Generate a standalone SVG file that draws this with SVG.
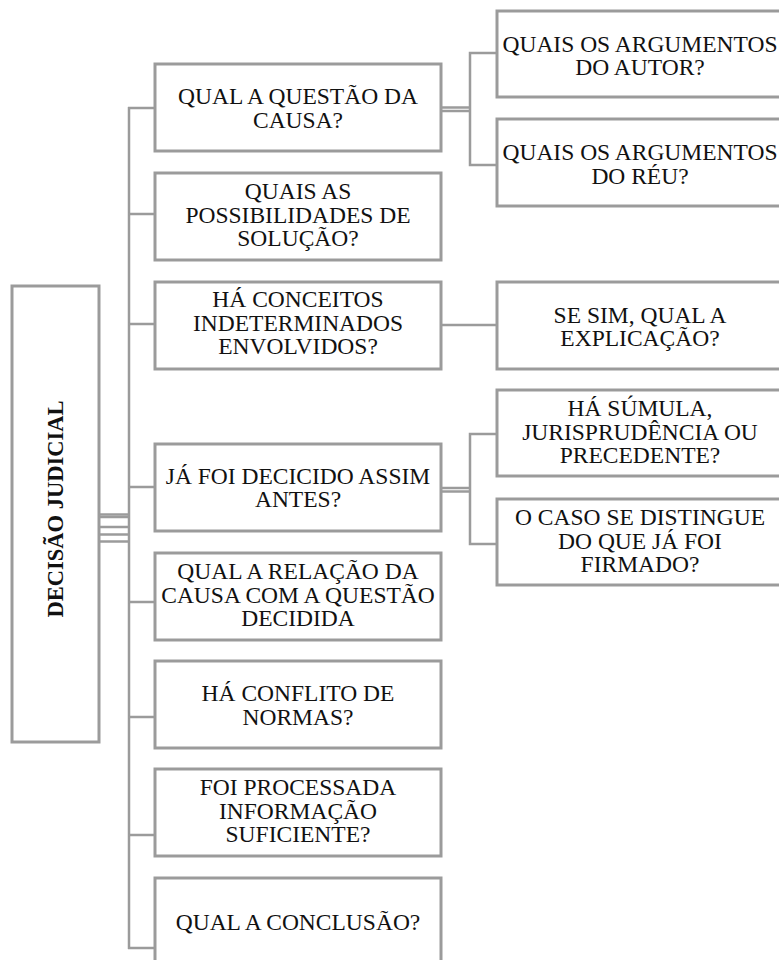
<svg xmlns="http://www.w3.org/2000/svg" width="779" height="960" viewBox="0 0 779 960">
<style>
.box{fill:#ffffff;stroke:#9b9b9b;stroke-width:3}
.ln{fill:none;stroke:#9b9b9b;stroke-width:2.5}
.t{font-family:"Liberation Serif","Times New Roman",serif;font-size:23.5px;fill:#111;text-anchor:middle}
.rt{font-weight:bold;font-size:22.5px}
</style>
<rect width="779" height="960" fill="#ffffff"/>
<g id="connectors">
<line class="ln" x1="99" y1="514.5" x2="129" y2="514.5"/>
<line class="ln" x1="99" y1="517" x2="129" y2="517"/>
<line class="ln" x1="99" y1="527" x2="129" y2="527"/>
<line class="ln" x1="99" y1="534.5" x2="129" y2="534.5"/>
<line class="ln" x1="99" y1="541.5" x2="129" y2="541.5"/>
<line class="ln" x1="129" y1="107" x2="129" y2="949"/>
<line class="ln" x1="128" y1="108" x2="155" y2="108"/>
<line class="ln" x1="128" y1="214" x2="155" y2="214"/>
<line class="ln" x1="128" y1="324" x2="155" y2="324"/>
<line class="ln" x1="128" y1="487" x2="155" y2="487"/>
<line class="ln" x1="128" y1="602" x2="155" y2="602"/>
<line class="ln" x1="128" y1="717" x2="155" y2="717"/>
<line class="ln" x1="128" y1="835" x2="155" y2="835"/>
<line class="ln" x1="128" y1="948" x2="155" y2="948"/>
<line class="ln" x1="441" y1="107.5" x2="470" y2="107.5"/>
<line class="ln" x1="441" y1="111" x2="470" y2="111"/>
<polyline class="ln" points="497,53 470,53 470,165 497,165"/>
<line class="ln" x1="441" y1="325" x2="497" y2="325"/>
<line class="ln" x1="441" y1="488" x2="470" y2="488"/>
<line class="ln" x1="441" y1="491.5" x2="470" y2="491.5"/>
<polyline class="ln" points="497,434 470,434 470,544 497,544"/>
</g>
<g id="root">
<rect class="box" x="12" y="286" width="87" height="456"/>
<text class="t rt" transform="translate(63,509) rotate(-90)">DECISÃO JUDICIAL</text>
</g>
<g id="n1">
<rect class="box" x="155" y="64" width="286" height="87"/>
<text class="t" x="298" y="104">QUAL A QUESTÃO DA</text>
<text class="t" x="298" y="128">CAUSA?</text>
</g>
<g id="n2">
<rect class="box" x="155" y="173" width="286" height="87"/>
<text class="t" x="298" y="199">QUAIS AS</text>
<text class="t" x="298" y="222.5">POSSIBILIDADES DE</text>
<text class="t" x="298" y="246">SOLUÇÃO?</text>
</g>
<g id="n3">
<rect class="box" x="155" y="282" width="286" height="87"/>
<text class="t" x="298" y="307">HÁ CONCEITOS</text>
<text class="t" x="298" y="330.5">INDETERMINADOS</text>
<text class="t" x="298" y="354">ENVOLVIDOS?</text>
</g>
<g id="n4">
<rect class="box" x="155" y="444" width="286" height="87"/>
<text class="t" x="298" y="483.5">JÁ FOI DECICIDO ASSIM</text>
<text class="t" x="298" y="507">ANTES?</text>
</g>
<g id="n5">
<rect class="box" x="155" y="553" width="286" height="87"/>
<text class="t" x="298" y="579">QUAL A RELAÇÃO DA</text>
<text class="t" x="298" y="602.5">CAUSA COM A QUESTÃO</text>
<text class="t" x="298" y="626">DECIDIDA</text>
</g>
<g id="n6">
<rect class="box" x="155" y="661" width="286" height="87"/>
<text class="t" x="298" y="701">HÁ CONFLITO DE</text>
<text class="t" x="298" y="724.5">NORMAS?</text>
</g>
<g id="n7">
<rect class="box" x="155" y="769" width="286" height="87"/>
<text class="t" x="298" y="795">FOI PROCESSADA</text>
<text class="t" x="298" y="818.5">INFORMAÇÃO</text>
<text class="t" x="298" y="842">SUFICIENTE?</text>
</g>
<g id="n8">
<rect class="box" x="155" y="878" width="286" height="87"/>
<text class="t" x="298" y="930">QUAL A CONCLUSÃO?</text>
</g>
<g id="n1a">
<rect class="box" x="497" y="11" width="286" height="86"/>
<text class="t" x="640" y="51.5">QUAIS OS ARGUMENTOS</text>
<text class="t" x="640" y="75">DO AUTOR?</text>
</g>
<g id="n1b">
<rect class="box" x="497" y="119" width="286" height="87"/>
<text class="t" x="640" y="160">QUAIS OS ARGUMENTOS</text>
<text class="t" x="640" y="183.5">DO RÉU?</text>
</g>
<g id="n3a">
<rect class="box" x="497" y="282" width="286" height="87"/>
<text class="t" x="640" y="322.5">SE SIM, QUAL A</text>
<text class="t" x="640" y="346">EXPLICAÇÃO?</text>
</g>
<g id="n4a">
<rect class="box" x="497" y="390" width="286" height="86"/>
<text class="t" x="640" y="416">HÁ SÚMULA,</text>
<text class="t" x="640" y="439.5">JURISPRUDÊNCIA OU</text>
<text class="t" x="640" y="463">PRECEDENTE?</text>
</g>
<g id="n4b">
<rect class="box" x="497" y="499" width="286" height="86"/>
<text class="t" x="640" y="525">O CASO SE DISTINGUE</text>
<text class="t" x="640" y="548.5">DO QUE JÁ FOI</text>
<text class="t" x="640" y="572">FIRMADO?</text>
</g>
</svg>
